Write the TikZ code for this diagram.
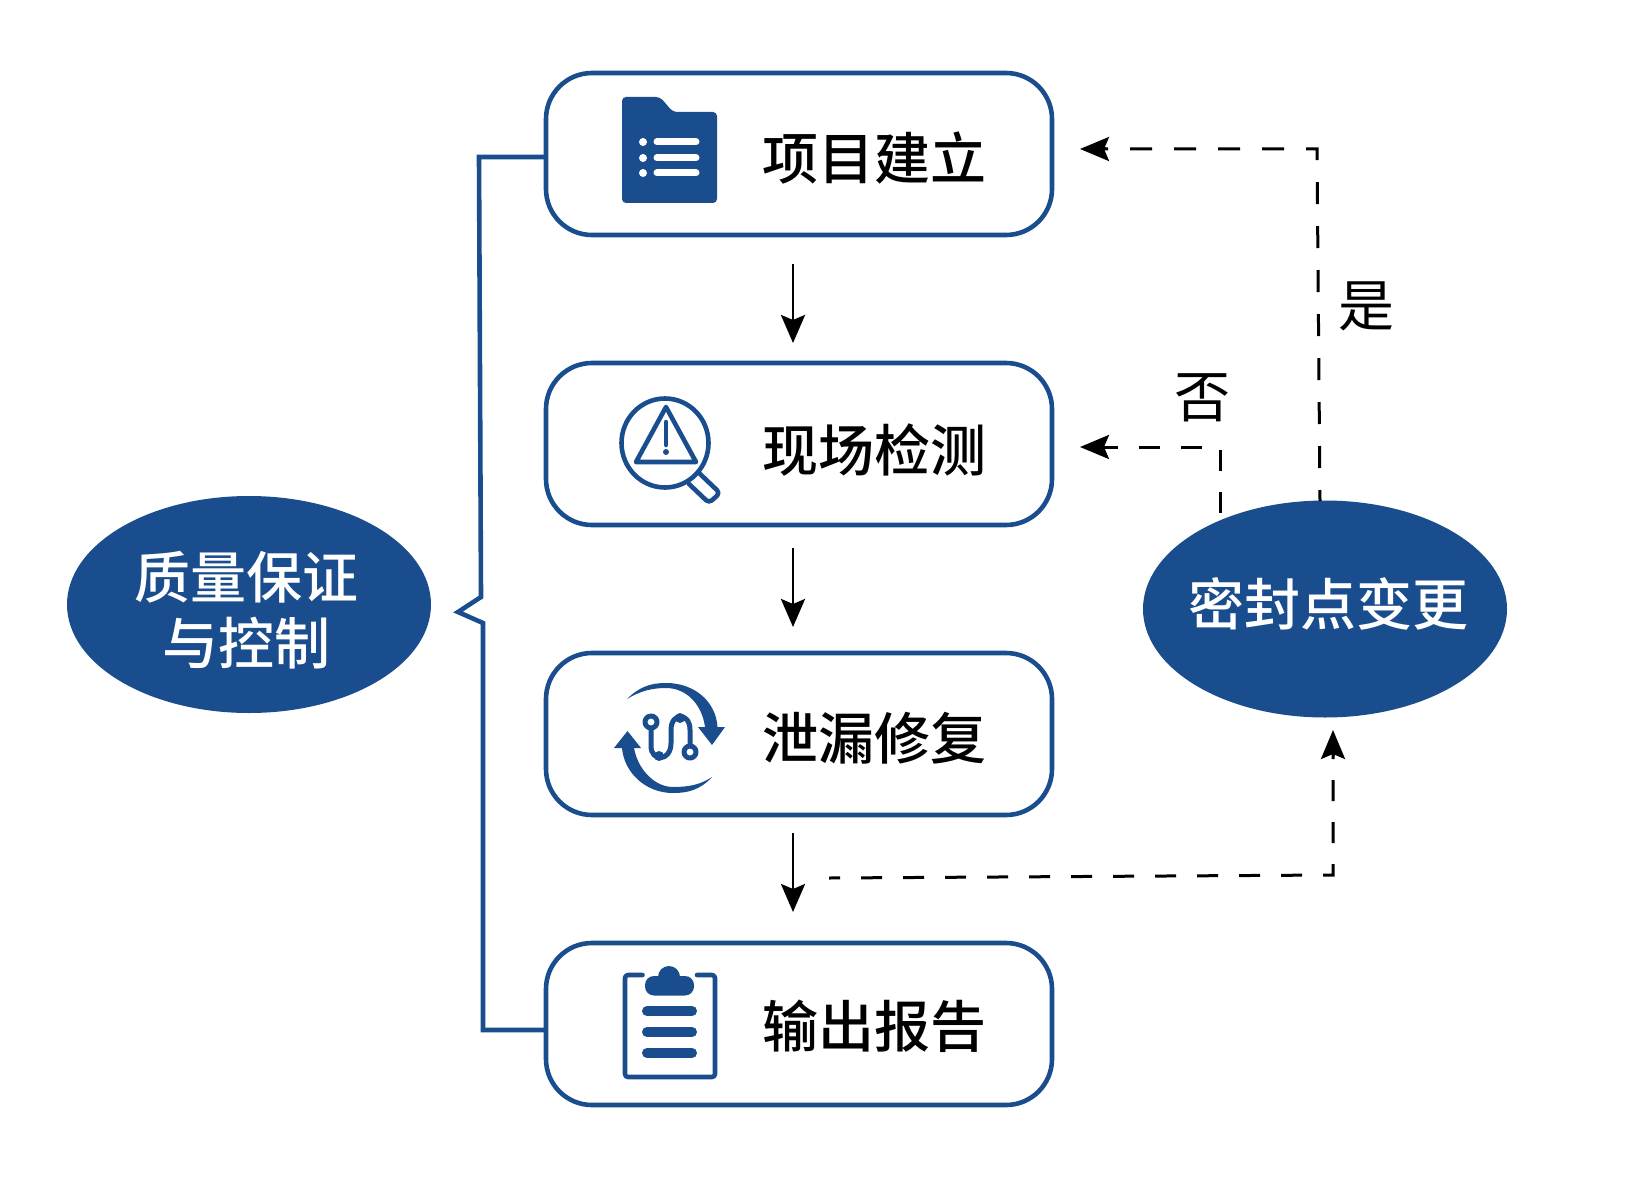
\documentclass[tikz,border=0pt]{standalone}
\usepackage{fontspec}
\setmainfont{Noto Sans CJK SC}
\newfontfamily\cjkm{Noto Sans CJK SC Medium}
\usetikzlibrary{arrows.meta,shapes.geometric}
\definecolor{qblue}{HTML}{1A4D8D}
\tikzset{
  x=1pt,y=-1pt,
  stagebox/.style={draw=qblue,line width=4.6pt,rounded corners=46pt,minimum width=506pt,minimum height=162pt,inner sep=0pt,outer sep=0pt,fill=white},
  stagetext/.style={font=\cjkm\fontsize{56pt}{60pt}\selectfont,text=black,inner sep=0pt},
  oval/.style={ellipse,fill=qblue,draw=none,minimum width=364pt,minimum height=217pt,inner sep=0pt,outer sep=0pt},
  ovaltext/.style={align=center,text=white,inner sep=0pt,font=\cjkm\fontsize{56pt}{66pt}\selectfont},
  flowarrow/.style={draw=black,line width=2.9pt,-{Stealth[length=28pt,width=24pt,inset=5pt]}},
  dashline/.style={draw=black,line width=3pt,dash pattern=on 22pt off 22pt},
  dashhead/.style={draw=black,line width=3pt,-{Stealth[length=29pt,width=24pt,inset=5pt]}},
  bracket/.style={draw=qblue,line width=4.6pt,line join=miter},
  choice/.style={font=\fontsize{56pt}{60pt}\selectfont,text=black,inner sep=0pt},
  icon/.style={draw=qblue,line width=4.6pt,line join=round,line cap=round},
}
\begin{document}
\begin{tikzpicture}
\useasboundingbox (0,0) rectangle (1643,1201);
% boxes
\node[stagebox] (b1) at (799,154) {};
\node[stagebox] (b2) at (799,444) {};
\node[stagebox] (b3) at (799,734) {};
\node[stagebox] (b4) at (799,1024) {};
\node[stagetext] (t1) at (874,158) {项目建立};
\node[stagetext] (t2) at (874,450) {现场检测};
\node[stagetext] (t3) at (874,738) {泄漏修复};
\node[stagetext] (t4) at (874,1026) {输出报告};
% ovals
\node[oval] (qa) at (249,604.5) {};
\node[ovaltext] (qat) at (246,610.5) {质量保证\\与控制};
\node[oval] (seal) at (1325,609) {};
\node[ovaltext] (sealt) at (1328,604) {密封点变更};
% bracket
\coordinate (bt) at (458,612);
\draw[bracket] ([yshift=-3pt]b1.west) -- (479,157) -- (481,597) -- (bt) -- (483,623) -- (483,1030) -- ([yshift=-6pt]b4.west);
% flow arrows
\coordinate (a1s) at (793,264); \coordinate (a1e) at (793,343);
\coordinate (a2s) at (793,548); \coordinate (a2e) at (793,627);
\coordinate (a3s) at (793,833); \coordinate (a3e) at (793,912);
\draw[flowarrow] (a1s) -- (a1e);
\draw[flowarrow] (a2s) -- (a2e);
\draw[flowarrow] (a3s) -- (a3e);
% dashed
\coordinate (yesS) at (1320,501); \coordinate (yesC) at (1317,149); \coordinate (yesE) at (1080,149);
\coordinate (noS) at (1220,513); \coordinate (noC) at (1220,447); \coordinate (noE) at (1080,447);
\coordinate (upS) at (829,878); \coordinate (upC) at (1333,875); \coordinate (upE) at (1333,730);
\draw[dashline,dash phase=11pt] (yesS) -- (yesC) -- ([xshift=22pt]yesE);
\draw[dashline,dash pattern=on 21pt off 21pt] (noS) -- (noC) -- ([xshift=22pt]noE);
\draw[dashline,dash pattern=on 21pt off 21pt,dash phase=10pt] (upS) -- (upC) -- ([yshift=-22pt]upE);
\draw[dashhead] ([xshift=26pt]yesE) -- (yesE);
\draw[dashhead] ([xshift=26pt]noE) -- (noE);
\draw[dashhead] ([yshift=-26pt]upE) -- (upE);
\node[choice] (yes) at (1366,306) {是};
\node[choice] (no) at (1202,398) {否};
% folder icon
\fill[qblue,rounded corners=4pt] (622,97) -- (660,97) -- (673,112) -- (717,112) -- (717,203) -- (622,203) -- cycle;
\foreach \yy in {142,158,173}{
  \draw[white,line width=7pt,line cap=round] (657,\yy) -- (696,\yy);
  \fill[white] (643,\yy) circle (4pt);
}
% magnifier icon
\draw[icon] (665,443) ellipse (43.5pt and 44.5pt);
\draw[icon] (666,407) -- (636,462) -- (696,462) -- cycle;
\draw[qblue,line width=4.5pt,line cap=round] (666,422) -- (666,445);
\fill[qblue] (666,452) circle (3pt);
\draw[icon,rounded corners=4pt] (699,473) -- (720,493) -- (709,503) -- (689,484);
% repair icon
\fill[qblue] (627,699) .. controls (640,686) and (652,683) .. (666,683) .. controls (695,683) and (716,702) .. (717.5,727) -- (725,727) -- (712,745) -- (698,727) -- (705,727) .. controls (702,704) and (686,688) .. (666,688) .. controls (652,688) and (640,691) .. cycle;
\fill[qblue] (712,777) .. controls (700,790) and (688,793) .. (673,793) .. controls (645,793) and (624,772) .. (622,748) -- (614,748) -- (627.5,731) -- (641,748) -- (634,748) .. controls (638,770) and (655,787) .. (673,787) .. controls (688,787) and (700,785) .. cycle;
\draw[icon,line width=5pt] (651,722) circle (6pt);
\draw[icon,line width=5pt] (690,752) circle (6pt);
\draw[icon,line width=5pt] (651,728) -- (651,746) .. controls (651,762) and (671,762) .. (671,743) -- (671,730) .. controls (671,712) and (690,712) .. (690,730) -- (690,746);
\fill[qblue] (659,756) circle (5pt);
\fill[qblue] (680,718) circle (5pt);
% clipboard icon
\draw[icon,rounded corners=3pt] (642.5,975) -- (625,975) -- (625,1077) -- (715,1077) -- (715,975) -- (697,975);
\fill[qblue] (669,977) circle (11pt);
\fill[qblue,rounded corners=9pt] (645,976) rectangle (694,995.5);
\foreach \yy in {1011,1032,1053}{
  \draw[qblue,line width=10pt,line cap=round] (647,\yy) -- (692,\yy);
}
\end{tikzpicture}
\end{document}
